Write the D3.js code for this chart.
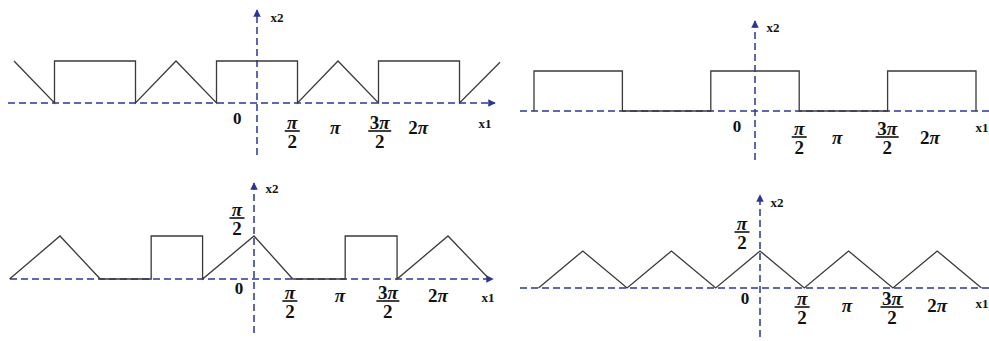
<!DOCTYPE html>
<html>
<head>
<meta charset="utf-8">
<script src="https://cdn.jsdelivr.net/npm/d3@7"></script>
<style>
  body { margin: 0; background: #fff; }
  svg { display: block; }
  .lbl { font-family: "Liberation Serif", "DejaVu Serif", serif; font-weight: bold; fill: #111; }
  .pi { font-style: italic; }
</style>
</head>
<body>
<svg id="chart"></svg>
<script>
var width = 989;
var height = 341;

// tick labels along x1 (multiples of pi)
var tickLabels = ["0", "π/2", "π", "3π/2", "2π"];

// vertices of each curve, x in units of pi/2, y in units of the top level (pi/2)
var curve1 = [[-6, 1], [-5, 0], [-5, 1], [-3, 1], [-3, 0], [-2, 1], [-1, 0], [-1, 1], [1, 1], [1, 0],
              [2, 1], [3, 0], [3, 1], [5, 1], [5, 0], [6, 0.97]];
var curve2 = [[-5, 0], [-5, 1], [-3, 1], [-3, 0], [-1, 0], [-1, 1], [1, 1], [1, 0],
              [3, 0], [3, 1], [5, 1], [5, 0]];
var curve3 = [[-5.04, 0], [-4.0, 1], [-3.17, 0], [-2.12, 0], [-2.12, 1], [-1.06, 1], [-1.06, 0],
              [0, 1], [0.8, 0], [1.88, 0], [1.88, 1], [2.95, 1], [2.95, 0], [4.0, 1], [4.85, 0]];
var curve4 = [[-5, 0], [-4, 1], [-3, 0], [-2, 1], [-1, 0], [0, 1], [1, 0], [2, 1], [3, 0], [4, 1], [5, 0]];

// where each tick label sits along x1 (units of pi/2)
var labelPos1 = [-0.49, 0.87, 1.93, 3.03, 3.98];
var labelPos2 = [-0.41, 1.0, 1.86, 2.99, 3.96];
var labelPos3 = [-0.31, 0.74, 1.77, 2.76, 3.79];
var labelPos4 = [-0.34, 0.95, 1.96, 2.98, 4.0];

var panels = [
    {ox: 257, oy: 103, u: 40.5, h: 42, xa: [8, 495], ya: [155, 10], arrowX: true,
     curve: curve1, labelPos: labelPos1, zeroY: 118, fracY: 131, piY: 127,
     x1: [485, 123], x2: [277, 17], yTick: null},
    {ox: 755, oy: 111, u: 44.2, h: 40, xa: [520, 992], ya: [160, 21], arrowX: false,
     curve: curve2, labelPos: labelPos2, zeroY: 126, fracY: 137, piY: 137,
     x1: [982, 127], x2: [773, 27], yTick: null},
    {ox: 254, oy: 279, u: 48.5, h: 43, xa: [10, 493], ya: [333, 183], arrowX: true,
     curve: curve3, labelPos: labelPos3, zeroY: 288, fracY: 301, piY: 295,
     x1: [488, 297], x2: [272, 188], yTick: [237, 218]},
    {ox: 760, oy: 288, u: 44.3, h: 37, xa: [520, 992], ya: [337, 195], arrowX: false,
     curve: curve4, labelPos: labelPos4, zeroY: 298, fracY: 307, piY: 305,
     x1: [982, 303], x2: [777, 202], yTick: [742, 232]}
];

var axisColor = "#2c3596";
var lineColor = "#3a3a3a";

var svg = d3.select("#chart")
    .attr("width", width)
    .attr("height", height)
    .attr("xmlns", "http://www.w3.org/2000/svg");

svg.append("defs").append("marker")
    .attr("id", "arrow")
    .attr("viewBox", "0 0 10 10")
    .attr("refX", 9)
    .attr("refY", 5)
    .attr("markerWidth", 5)
    .attr("markerHeight", 5)
    .attr("orient", "auto")
    .append("path")
    .attr("d", "M0,0 L10,5 L0,10 z")
    .attr("fill", axisColor);

// writes "2π" style text, with the pi glyph set in italic
function mathText(sel, s) {
    s.split(/(π)/).forEach(function (part) {
        if (part === "") return;
        sel.append("tspan").classed("pi", part === "π").text(part);
    });
}

function drawText(g, cx, cy, s, size) {
    var t = g.append("text").attr("class", "lbl")
        .attr("x", cx).attr("y", cy)
        .attr("text-anchor", "middle").attr("dominant-baseline", "central")
        .style("font-size", size + "px");
    mathText(t, s);
}

function drawFraction(g, cx, cy, num, den) {
    var w = num.length > 1 ? 23 : 15;
    drawText(g, cx, cy - 9, num, 19);
    g.append("line")
        .attr("x1", cx - w / 2).attr("x2", cx + w / 2)
        .attr("y1", cy).attr("y2", cy)
        .attr("stroke", "#111").attr("stroke-width", 1.6);
    drawText(g, cx, cy + 10, den, 19);
}

function drawPanel(p) {
    var g = svg.append("g");
    var x = d3.scaleLinear().domain([0, 1]).range([p.ox, p.ox + p.u]);
    var y = d3.scaleLinear().domain([0, 1]).range([p.oy, p.oy - p.h]);

    // axes
    g.append("line")
        .attr("x1", p.xa[0]).attr("x2", p.xa[1])
        .attr("y1", y(0)).attr("y2", y(0))
        .attr("stroke", axisColor).attr("stroke-width", 1.5)
        .attr("stroke-dasharray", "7,4")
        .attr("marker-end", p.arrowX ? "url(#arrow)" : null);
    g.append("line")
        .attr("x1", x(0)).attr("x2", x(0))
        .attr("y1", p.ya[0]).attr("y2", p.ya[1])
        .attr("stroke", axisColor).attr("stroke-width", 1.5)
        .attr("stroke-dasharray", "7,4")
        .attr("marker-end", "url(#arrow)");

    // curve
    var line = d3.line()
        .x(function (d) { return x(d[0]); })
        .y(function (d) { return y(d[1]); });
    g.append("path")
        .datum(p.curve)
        .attr("d", line)
        .attr("fill", "none")
        .attr("stroke", lineColor)
        .attr("stroke-width", 1.3);

    // tick labels
    tickLabels.forEach(function (t, i) {
        var cx = x(p.labelPos[i]);
        if (t.indexOf("/") >= 0) {
            var parts = t.split("/");
            drawFraction(g, cx, p.fracY, parts[0], parts[1]);
        } else {
            drawText(g, cx, t === "0" ? p.zeroY : p.piY, t, t === "0" ? 17 : 19);
        }
    });

    if (p.yTick) {
        drawFraction(g, p.yTick[0], p.yTick[1], "π", "2");
    }

    drawText(g, p.x1[0], p.x1[1], "x1", 13);
    drawText(g, p.x2[0], p.x2[1], "x2", 13);
}

panels.forEach(drawPanel);
</script>
</body>
</html>
